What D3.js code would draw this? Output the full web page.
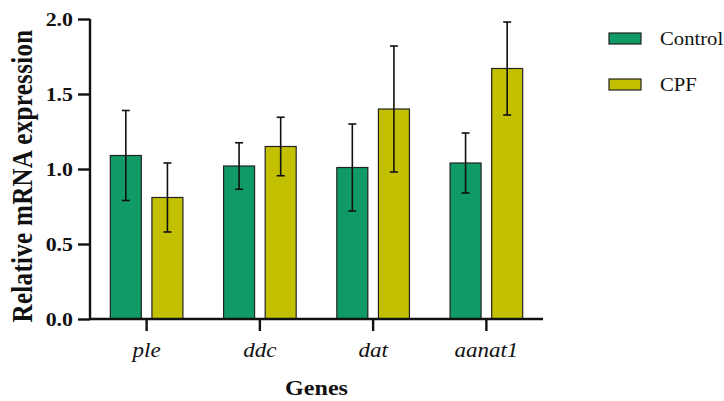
<!DOCTYPE html>
<html>
<head>
<meta charset="utf-8">
<script src="https://cdn.jsdelivr.net/npm/d3@7"></script>
<style>
  html, body { margin: 0; padding: 0; background: #fff; }
  svg { display: block; }
  text { font-family: "Liberation Serif", "Times New Roman", serif; fill: #111; }
</style>
</head>
<body>
<svg id="chart" width="724" height="401"></svg>
<script>
// Relative mRNA expression per gene, mean and SD per group
const genes = ["ple", "ddc", "dat", "aanat1"];
const series = ["Control", "CPF"];
const controlMean = [1.09, 1.02, 1.01, 1.04];
const controlSD   = [0.30, 0.155, 0.29, 0.20];
const cpfMean     = [0.81, 1.15, 1.40, 1.67];
const cpfSD       = [0.23, 0.195, 0.42, 0.31];
const yTicks = [0, 0.5, 1.0, 1.5, 2.0];
const colors = { Control: "#0f9a66", CPF: "#c2c000" };

const svg = d3.select("#chart");
const plotLeft = 90, plotRight = 543, plotTop = 19, plotBottom = 319;
const stretch = 1.15; // horizontal widening of lettering
const serif = "Liberation Serif";

const rows = genes.map((g, i) => ({
  gene: g,
  values: [
    { key: "Control", mean: controlMean[i], sd: controlSD[i] },
    { key: "CPF", mean: cpfMean[i], sd: cpfSD[i] }
  ]
}));

const x0 = d3.scaleBand().domain(genes).range([plotLeft, plotRight]).padding(0);
const x1 = d3.scaleBand().domain(series).range([-36.3, 36.3]).paddingInner(0.255);
const y = d3.scaleLinear().domain([0, 2]).range([plotBottom, plotTop]);

// bars
const groups = svg.append("g").selectAll("g").data(rows).join("g")
  .attr("transform", d => `translate(${x0(d.gene) + x0.bandwidth() / 2},0)`);

groups.selectAll("rect").data(d => d.values).join("rect")
  .attr("x", d => x1(d.key))
  .attr("y", d => y(d.mean))
  .attr("width", x1.bandwidth())
  .attr("height", d => y(0) - y(d.mean))
  .attr("fill", d => colors[d.key])
  .attr("stroke", "#222")
  .attr("stroke-width", 1.2);

// error bars
const err = groups.selectAll("g.err").data(d => d.values).join("g").attr("class", "err")
  .attr("transform", d => `translate(${x1(d.key) + x1.bandwidth() / 2},0)`)
  .attr("stroke", "#111").attr("stroke-width", 1.6);
err.append("line").attr("x1", 0).attr("x2", 0)
  .attr("y1", d => y(d.mean + d.sd)).attr("y2", d => y(d.mean - d.sd));
err.append("line").attr("x1", -4).attr("x2", 4)
  .attr("y1", d => y(d.mean + d.sd)).attr("y2", d => y(d.mean + d.sd));
err.append("line").attr("x1", -4).attr("x2", 4)
  .attr("y1", d => y(d.mean - d.sd)).attr("y2", d => y(d.mean - d.sd));

// y axis
const yAxis = svg.append("g").attr("transform", `translate(${plotLeft},0)`)
  .call(d3.axisLeft(y).tickValues(yTicks).tickSize(12).tickPadding(5).tickFormat(d3.format(".1f")));
yAxis.select(".domain").attr("stroke", "#111").attr("stroke-width", 2.4)
  .attr("d", `M0,${plotTop}V${plotBottom}`);
yAxis.selectAll(".tick line").attr("stroke", "#111").attr("stroke-width", 2.4);
yAxis.selectAll(".tick text")
  .attr("font-family", serif).attr("font-weight", "bold").attr("font-size", 19)
  .attr("fill", "#111")
  .attr("transform", `translate(-17,0) scale(${stretch},1) translate(17,0)`);

// x axis
const xAxis = svg.append("g").attr("transform", `translate(0,${plotBottom})`)
  .call(d3.axisBottom(x0).tickSize(12).tickPadding(12));
xAxis.select(".domain").attr("stroke", "#111").attr("stroke-width", 2.4)
  .attr("d", `M${plotLeft},0H${plotRight}`);
xAxis.selectAll(".tick line").attr("stroke", "#111").attr("stroke-width", 2.4);
xAxis.selectAll(".tick text")
  .attr("font-family", serif).attr("font-style", "italic").attr("font-size", 20)
  .attr("fill", "#222")
  .attr("transform", `scale(${stretch},1)`);

// axis titles
svg.append("text")
  .attr("transform", `translate(316.5,395) scale(${stretch},1)`)
  .attr("text-anchor", "middle")
  .attr("font-family", serif).attr("font-weight", "bold").attr("font-size", 21)
  .text("Genes");

svg.append("text")
  .attr("transform", `translate(32,176) scale(${stretch},1) rotate(-90)`)
  .attr("text-anchor", "middle")
  .attr("font-family", serif).attr("font-weight", "bold").attr("font-size", 25)
  .attr("letter-spacing", 0.3)
  .text("Relative mRNA expression");

// legend
const legend = svg.append("g").selectAll("g").data(series).join("g")
  .attr("transform", (d, i) => `translate(609,${33 + i * 46})`);
legend.append("rect")
  .attr("width", 32).attr("height", 11)
  .attr("fill", d => colors[d])
  .attr("stroke", "#222").attr("stroke-width", 1.2);
legend.append("text")
  .attr("transform", `translate(51,12) scale(${stretch},1)`)
  .attr("font-family", serif).attr("font-size", 18)
  .text(d => d);
</script>
</body>
</html>
